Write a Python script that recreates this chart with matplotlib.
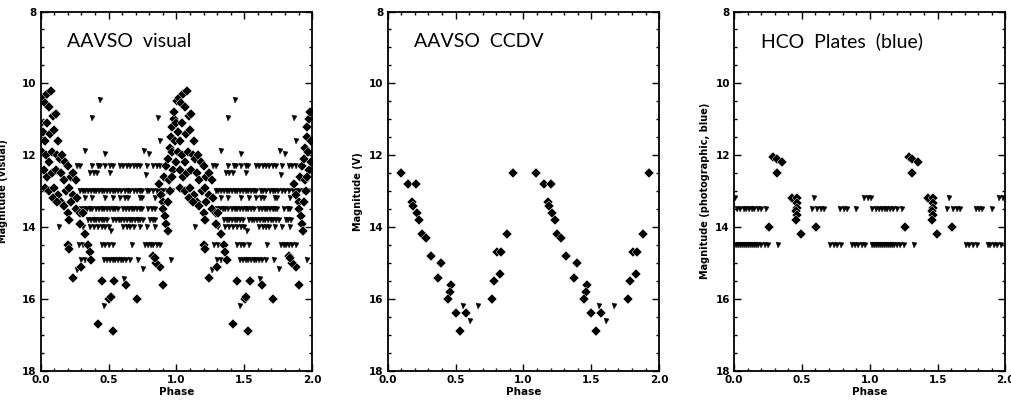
import matplotlib
matplotlib.use("Agg")
import matplotlib.pyplot as plt
from matplotlib.ticker import MultipleLocator, FormatStrFormatter

# ---------------- data (phase 0-1, repeated at +1) ----------------
# AAVSO visual: detections (diamonds)
vis_det_phase = [0.005, 0.020, 0.035, 0.050, 0.075, 0.060, 0.090, 0.110, 0.000, 0.015,
                 0.030, 0.045, 0.070, 0.100, 0.130, 0.010, 0.040, 0.060, 0.085, 0.120,
                 0.140, 0.160, 0.180, 0.200, 0.025, 0.050, 0.080, 0.110, 0.150, 0.170,
                 0.220, 0.240, 0.260, 0.030, 0.060, 0.100, 0.130, 0.190, 0.210, 0.240,
                 0.270, 0.150, 0.170, 0.200, 0.220, 0.260, 0.290, 0.210, 0.290, 0.310,
                 0.330, 0.200, 0.210, 0.350, 0.360, 0.370, 0.300, 0.240, 0.090, 0.120,
                 0.870, 0.885, 0.900, 0.905, 0.915, 0.925, 0.935, 0.910, 0.925, 0.940,
                 0.945, 0.950, 0.960, 0.965, 0.970, 0.975, 0.980, 0.985, 0.990, 0.995,
                 0.955, 0.965, 0.940,
                 0.450, 0.540, 0.630, 0.505, 0.515, 0.710, 0.420, 0.530, 0.900, 0.880,
                 0.830, 0.850, 0.840]
vis_det_mag = [10.5, 10.4, 10.55, 10.3, 10.2, 10.65, 10.9, 10.85, 11.1, 11.35,
               11.6, 11.1, 11.4, 11.3, 11.6, 11.9, 12.0, 12.2, 11.9, 12.0,
               12.1, 12.0, 12.2, 12.3, 12.4, 12.6, 12.5, 12.4, 12.5, 12.7,
               12.6, 12.5, 12.7, 12.9, 13.0, 12.9, 13.1, 13.0, 12.9, 13.1,
               13.2, 13.3, 13.4, 13.6, 13.3, 13.5, 13.6, 13.8, 13.9, 13.6,
               14.2, 14.5, 14.6, 14.5, 14.7, 14.9, 15.1, 15.4, 13.2, 13.3,
               12.8, 13.1, 13.3, 13.5, 13.7, 13.9, 14.1, 12.6, 12.3, 12.1,
               12.7, 11.8, 11.5, 11.2, 11.9, 12.4, 11.0, 10.8, 11.6, 12.2,
               13.0, 12.6, 13.3,
               15.5, 15.5, 15.6, 16.0, 15.95, 16.0, 16.7, 16.9, 15.6, 15.1,
               14.8, 15.0, 14.85]

# AAVSO visual: fainter-than limits (triangles), grouped by magnitude row
vis_lim_rows = {
    12.3: [0.27, 0.29, 0.38, 0.425, 0.44, 0.475, 0.51, 0.53, 0.585, 0.61, 0.635,
           0.66, 0.685, 0.71, 0.735, 0.78, 0.83, 0.855, 0.88],
    12.5: [0.363, 0.39, 0.417, 0.51],
    13.0: [0.29, 0.31, 0.33, 0.35, 0.37, 0.39, 0.41, 0.43, 0.45, 0.47, 0.49, 0.51,
           0.53, 0.55, 0.57, 0.59, 0.62, 0.64, 0.66, 0.69, 0.71, 0.73, 0.75, 0.78,
           0.80, 0.83, 0.86, 0.88, 0.90, 0.93, 0.95, 0.97],
    13.2: [0.33, 0.38, 0.475, 0.535, 0.585, 0.62, 0.645, 0.73, 0.745, 0.84],
    13.5: [0.30, 0.32, 0.34, 0.36, 0.38, 0.41, 0.43, 0.45, 0.47, 0.49, 0.51, 0.53,
           0.55, 0.57, 0.61, 0.63, 0.65, 0.67, 0.69, 0.71, 0.73, 0.745, 0.79, 0.82,
           0.84],
    13.8: [0.35, 0.37, 0.39, 0.41, 0.43, 0.45, 0.47, 0.49, 0.535, 0.555, 0.575,
           0.595, 0.615, 0.635, 0.655, 0.675, 0.695, 0.715, 0.735, 0.755, 0.805,
           0.825, 0.845],
    14.0: [0.135, 0.31, 0.36, 0.39, 0.42, 0.45, 0.475, 0.50, 0.61, 0.635, 0.66,
           0.685, 0.73, 0.78, 0.84],
    14.5: [0.28, 0.31, 0.45, 0.475, 0.50, 0.535, 0.67, 0.77, 0.79, 0.81, 0.83,
           0.855, 0.88],
    14.9: [0.30, 0.33, 0.47, 0.49, 0.51, 0.53, 0.55, 0.57, 0.59, 0.61, 0.63, 0.66,
           0.72, 0.96],
}
vis_lim_extra_phase = [0.435, 0.38, 0.866, 0.88, 0.326, 0.474, 0.76, 0.80, 0.773,
                       0.52, 0.265, 0.468, 0.757, 0.615]
vis_lim_extra_mag = [10.46, 10.97, 10.97, 11.6, 11.88, 11.97, 11.88, 11.97, 12.56,
                     14.1, 15.18, 16.2, 15.17, 15.45]

# AAVSO CCDV
ccd_det_phase = [0.096, 0.150, 0.206, 0.181, 0.189, 0.214, 0.231, 0.250, 0.280,
                 0.317, 0.395, 0.371, 0.469, 0.459, 0.445, 0.501, 0.575, 0.533,
                 0.771, 0.784, 0.828, 0.808, 0.838, 0.882, 0.926]
ccd_det_mag = [12.5, 12.8, 12.8, 13.3, 13.4, 13.6, 13.8, 14.2, 14.3,
               14.8, 15.0, 15.4, 15.6, 15.8, 16.0, 16.4, 16.4, 16.9,
               16.0, 15.5, 15.3, 14.7, 14.7, 14.2, 12.5]
ccd_lim_phase = [0.557, 0.666, 0.607]
ccd_lim_mag = [16.2, 16.2, 16.6]

# HCO plates (blue)
hco_det_phase = [0.290, 0.315, 0.357, 0.315, 0.426, 0.463, 0.463, 0.463, 0.460,
                 0.465, 0.460, 0.260, 0.603, 0.494]
hco_det_mag = [12.05, 12.1, 12.2, 12.5, 13.2, 13.2, 13.33, 13.47, 13.56,
               13.65, 13.8, 14.0, 14.0, 14.2]
hco_lim_rows = {
    13.2: [0.010, 0.586, 0.955, 0.985],
    13.5: [0.020, 0.044, 0.070, 0.090, 0.110, 0.130, 0.150, 0.175, 0.200, 0.236,
           0.573, 0.615, 0.640, 0.664, 0.782, 0.807, 0.830, 0.900],
    14.5: [0.015, 0.030, 0.045, 0.060, 0.075, 0.090, 0.105, 0.120, 0.135, 0.150,
           0.165, 0.180, 0.200, 0.225, 0.250, 0.327, 0.710, 0.735, 0.760, 0.790,
           0.870, 0.890, 0.915, 0.940, 0.965],
}

titles = ["AAVSO  visual", "AAVSO  CCDV", "HCO  Plates  (blue)"]
ylabels = ["Magnitude (visual)", "Magnitude (V)", "Magnitude (photographic, blue)"]


def rows_to_xy(rows):
    xs, ys = [], []
    for m, ph in rows.items():
        xs += list(ph)
        ys += [m] * len(ph)
    return xs, ys


def twice(ph, mg):
    return list(ph) + [p + 1 for p in ph], list(mg) + list(mg)


fig = plt.figure(figsize=(10.12, 4.01), dpi=100)
lefts = [0.0402, 0.3831, 0.7253]
axes = [fig.add_axes([l, 0.0748, 0.2682, 0.8965]) for l in lefts]

vlx, vly = rows_to_xy(vis_lim_rows)
vlx += vis_lim_extra_phase
vly += vis_lim_extra_mag
hlx, hly = rows_to_xy(hco_lim_rows)

datasets = [
    (vis_det_phase, vis_det_mag, vlx, vly),
    (ccd_det_phase, ccd_det_mag, ccd_lim_phase, ccd_lim_mag),
    (hco_det_phase, hco_det_mag, hlx, hly),
]

for i, (ax, (dp, dm, lp, lm)) in enumerate(zip(axes, datasets)):
    x, y = twice(lp, lm)
    ax.plot(x, y, 'v', color='black', ms=3.6, mec='black', mew=0.3, ls='none')
    x, y = twice(dp, dm)
    ax.plot(x, y, 'D', color='black', ms=5.0, mec='white', mew=0.3, ls='none')
    ax.set_xlim(0, 2)
    ax.set_ylim(18, 8)
    ax.xaxis.set_major_locator(MultipleLocator(0.5))
    ax.xaxis.set_minor_locator(MultipleLocator(0.1))
    ax.yaxis.set_major_locator(MultipleLocator(2))
    ax.yaxis.set_minor_locator(MultipleLocator(0.5))
    ax.xaxis.set_major_formatter(FormatStrFormatter('%.1f'))
    ax.yaxis.set_major_formatter(FormatStrFormatter('%d'))
    ax.tick_params(which='both', direction='in', top=True, right=True,
                   width=1.0, labelsize=7.5, pad=3)
    ax.tick_params(which='major', length=5)
    ax.tick_params(which='minor', length=2.5)
    for lab in ax.get_xticklabels() + ax.get_yticklabels():
        lab.set_fontweight('bold')
    for s in ax.spines.values():
        s.set_linewidth(1.3)
    ax.set_xlabel("Phase", fontsize=7.5, fontweight='bold', labelpad=1)
    ax.set_ylabel(ylabels[i], fontsize=7, fontweight='bold',
                  labelpad=10 if i == 0 else 4)
    ax.text(0.098, 9.0, titles[i], fontsize=14, fontweight='normal',
            color='black', family=['Lato', 'DejaVu Sans'],
            transform=ax.get_yaxis_transform(), va='baseline', ha='left')

fig.savefig("out.png", dpi=100)
